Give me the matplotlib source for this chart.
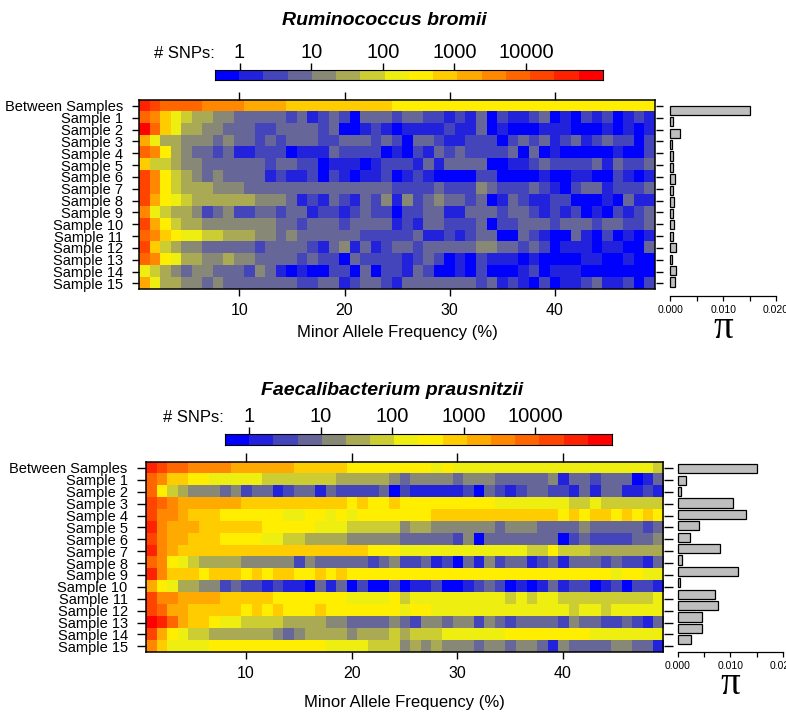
import numpy as np
import matplotlib
matplotlib.use("Agg")
import matplotlib.pyplot as plt
import matplotlib.transforms as mtransforms
from matplotlib.colors import ListedColormap

plt.rcParams['font.family'] = ['Liberation Sans', 'DejaVu Sans']

W, H = 786, 713
PT = 0.72  # points per pixel at dpi 100

ROW_LABELS = ["Between Samples"] + [f"Sample {i}" for i in range(1, 16)]
MAF = np.arange(1, 50)  # minor allele frequency bins (%)

# 16 colour classes of the SNP count scale (blue = few, red = many)
SNP_COLORS = ["#0000FF", "#2222DD", "#4444BB", "#666699", "#888877", "#AAAA55",
              "#CCCC33", "#EEEE11", "#FFEE00", "#FFCC00", "#FFAA00", "#FF8800",
              "#FF6600", "#FF4400", "#FF2200", "#FF0000"]
SNP_TICKS = [1, 10, 100, 1000, 10000]
SNP_LOG_RANGE = (-0.338, 5.07)  # log10 span of the colour key

# colour class (hex digit 0-f) for each MAF bin 1..49, one string per row
RB_LEVELS = [
    "edccccbbbbaaaa999" "9999999" "888888888" "8888888888888888",
    "cb976554433333231" "2320333233221213" "0211230102120121",
    "fc975544333223333" "2300121011112113" "0100011100010101",
    "a7554443433232333" "2233323203321122" "2023231231232202",
    "cb854332311222011" "1322220102132322" "2230301000001002",
    "96654433333323322" "0111012221313333" "0011232222313223",
    "db865434333312112" "0210112012100002" "2000010011002101",
    "db865554443333333" "3333333222232224" "3222321023312223",
    "da876555555444312" "1321324142343323" "0132112200010311",
    "b7655423422332331" "2212322022331133" "3233212120102123",
    "da865544444443323" "3323333121332223" "0223332333233223",
    "cb987766555443433" "3333222223112123" "3003210031020101",
    "d9654433333233332" "1341312332333334" "4332320111011003",
    "cb875544544333323" "2203222212320102" "1110100001100100",
    "76543443332431010" "0220302213200102" "0001201110000000",
    "a7554434333333322" "3312332133333332" "3121020112311202",
]
RB_PI = [0.0150, 0.0006, 0.0018, 0.0004, 0.0006, 0.0006, 0.0008, 0.0006,
         0.0007, 0.0006, 0.0007, 0.0006, 0.0010, 0.0004, 0.0011, 0.0008]

FP_LEVELS = [
    "edccbbbbaaaaaa999" "9988888888787777" "7777777777777776",
    "cb998877777666666" "6555554344443444" "3333341332333013",
    "c8654443423312331" "3222230211111203" "2123322131331121",
    "dcbaaaaaa99999999" "9989889888888888" "7777777667666666",
    "dbba9998888887788" "7878888888999999" "9999998989989898",
    "ebaaa999999888887" "7766666455444444" "3444333343333323",
    "dbaa9998888776655" "5544444333332403" "3333330232222334",
    "eba99999999999999" "9999888777777777" "7776686665555555",
    "cb876555544444243" "3333234223120314" "2331231333232213",
    "eb999899989899889" "8988888888888888" "8888888888878877",
    "a8755442322121103" "1302002011200123" "2010131220120221",
    "dbbaaaa9999988888" "8877778677777777" "7676776666666667",
    "dcaa9999989898889" "8888888788777777" "7777777677677777",
    "feca9987766665555" "4433334324434424" "3233332433223213",
    "da876655555543455" "5545556566677777" "7888888887777777",
    "b9777788888888888" "7777666454544434" "4344314333344331",
]
FP_PI = [0.0151, 0.0016, 0.0007, 0.0105, 0.0130, 0.0041, 0.0024, 0.0081,
         0.0009, 0.0115, 0.0005, 0.0070, 0.0076, 0.0046, 0.0046, 0.0026]

PI_TICKS = [0.0, 0.01, 0.02]
PI_MINOR = [0.005, 0.015]

# panel geometry in pixels (x0, y0, x1, y1 from top-left)
TOP = dict(title=(384, 25), cbar=(215.3, 70, 602.7, 80), heat=(139.3, 100, 655, 289.3),
           pi_left=663, pi_zero=670.3, pi_at02=776, bars=(0.37, 14.89), drop=5,
           top_tick=8, side_tick=7.5, xlab_y=333, pisym_y=338)
BOT = dict(title=(392, 395), cbar=(225, 434, 611.7, 445), heat=(145.7, 462, 663, 652.3),
           pi_left=672.7, pi_zero=677.7, pi_at02=783, bars=(0.07, 14.45), drop=0,
           top_tick=9, side_tick=9, xlab_y=703, pisym_y=694)


def frac(x0, y0, x1, y1):
    return [x0 / W, 1 - y1 / H, (x1 - x0) / W, (y1 - y0) / H]


def draw_panel(fig, title, levels, pi, lay):
    cmap = ListedColormap(SNP_COLORS)
    grid = np.array([[int(c, 16) for c in row] for row in levels])
    assert grid.shape == (len(ROW_LABELS), len(MAF)), grid.shape
    nrow = len(ROW_LABELS)

    # title
    fig.text(lay['title'][0] / W, 1 - lay['title'][1] / H, title, ha='center',
             va='baseline', fontsize=14, fontweight='bold', fontstyle='italic')

    # colour key
    cx0, cy0, cx1, cy1 = lay['cbar']
    cax = fig.add_axes(frac(cx0, cy0, cx1, cy1))
    lo, hi = SNP_LOG_RANGE
    cax.imshow(np.arange(len(SNP_COLORS))[None, :], cmap=cmap, aspect='auto',
               extent=(lo, hi, 0, 1), interpolation='nearest')
    cax.set_xlim(lo, hi)
    cax.set_yticks([])
    cax.set_xticks(np.log10(SNP_TICKS))
    cax.xaxis.set_ticks_position('top')
    cax.tick_params(axis='x', length=7 * PT, width=1, labeltop=False, labelbottom=False)
    for s in cax.spines.values():
        s.set_linewidth(0.8)
    tr = mtransforms.blended_transform_factory(cax.transData, fig.transFigure)
    ybase = 1 - (cy0 - 12) / H
    for t in SNP_TICKS:
        cax.text(np.log10(t), ybase, str(t), transform=tr, ha='center', va='baseline',
                 fontsize=14.5)
    fig.text((cx0 - 1) / W, ybase, "# SNPs:", ha='right', va='baseline', fontsize=12)

    # heatmap
    hx0, hy0, hx1, hy1 = lay['heat']
    ax = fig.add_axes(frac(hx0, hy0, hx1, hy1))
    ax.imshow(grid, cmap=cmap, vmin=-0.5, vmax=len(SNP_COLORS) - 0.5, aspect='auto',
              interpolation='nearest',
              extent=(MAF[0] - 0.5, MAF[-1] + 0.5, nrow - 0.5, -0.5))
    ax.set_xticks([10, 20, 30, 40])
    ax.set_yticks(range(nrow))
    ax.set_yticklabels(ROW_LABELS, fontsize=10.5)
    ax.tick_params(axis='y', length=lay['side_tick'] * PT, width=1, pad=6.5)
    ax.tick_params(axis='x', length=7 * PT, width=1, pad=5, labelsize=11.5)
    ax.tick_params(axis='x', which='major', top=True)
    ax.xaxis.get_major_ticks()  # ensure ticks exist
    for tk in ax.xaxis.get_major_ticks():
        tk.tick2line.set_markersize(lay['top_tick'] * PT)
    for s in ax.spines.values():
        s.set_linewidth(1.1)
    fig.text((hx0 + hx1) / 2 / W, 1 - lay['xlab_y'] / H, "Minor Allele Frequency (%)",
             ha='center', va='center', fontsize=12)

    # nucleotide diversity bars
    pax = fig.add_axes(frac(lay['pi_left'], hy0, W, hy1))
    scale = 0.02 / (lay['pi_at02'] - lay['pi_zero'])
    pax.set_xlim((lay['pi_left'] - lay['pi_zero']) * scale, (W - lay['pi_zero']) * scale)
    pax.set_ylim(nrow - 0.5, -0.5)
    ypos = np.linspace(lay['bars'][0], lay['bars'][1], nrow)
    pax.barh(ypos, pi, height=0.78, left=0, color='#BEBEBE', edgecolor='black',
             linewidth=0.9)
    for side in ('left', 'right', 'top'):
        pax.spines[side].set_visible(False)
    pax.spines['bottom'].set_bounds(0, 0.02)
    pax.spines['bottom'].set_position(('outward', lay['drop']))
    pax.spines['bottom'].set_linewidth(0.9)
    pax.set_yticks(range(nrow))
    pax.tick_params(axis='y', left=True, length=lay['side_tick'] * PT, width=1,
                    labelleft=False)
    pax.set_xticks(PI_TICKS)
    pax.set_xticklabels([f"{v:.3f}" for v in PI_TICKS])
    pax.set_xticks(PI_MINOR, minor=True)
    pax.tick_params(axis='x', which='both', length=5 * PT, width=0.9, labelsize=7.5,
                    pad=3)
    pax.patch.set_visible(False)
    trp = mtransforms.blended_transform_factory(pax.transData, fig.transFigure)
    pax.text(0.01, 1 - lay['pisym_y'] / H, "\u03c0", transform=trp, ha='center',
             va='baseline', fontsize=28, family='Liberation Serif')


fig = plt.figure(figsize=(W / 100, H / 100), dpi=100)
draw_panel(fig, "Ruminococcus bromii", RB_LEVELS, RB_PI, TOP)
draw_panel(fig, "Faecalibacterium prausnitzii", FP_LEVELS, FP_PI, BOT)
fig.savefig("out.png", dpi=100)
